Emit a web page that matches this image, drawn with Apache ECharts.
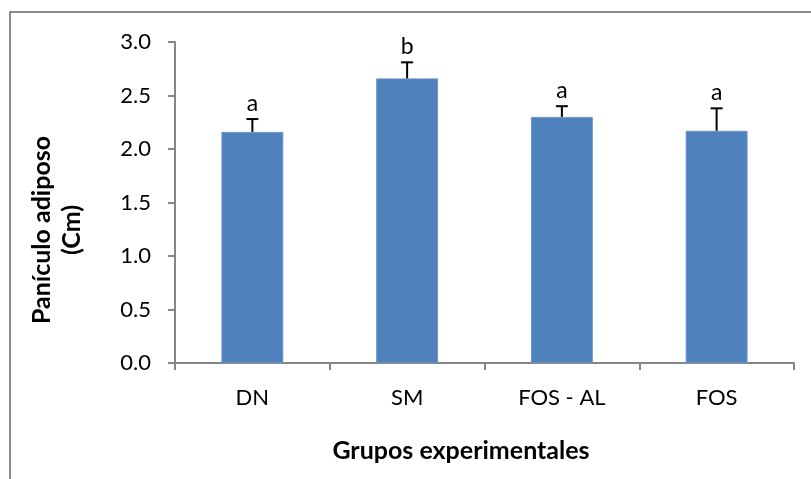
<!DOCTYPE html>
<html>
<head>
<meta charset="utf-8">
<script src="https://cdn.jsdelivr.net/npm/echarts@6/dist/echarts.min.js"></script>
<style>
  html, body { margin: 0; padding: 0; background: #ffffff; }
  #chart { width: 811px; height: 479px; }
</style>
</head>
<body>
<div id="chart"></div>
<script>
// Grupos experimentales y medias del panículo adiposo (cm)
const categories = ['DN', 'SM', 'FOS - AL', 'FOS'];
const means = [2.16, 2.66, 2.30, 2.17];
const errors = [0.12, 0.15, 0.10, 0.21];
const letters = ['a', 'b', 'a', 'a'];

const FONT = 'Lato, "Open Sans", "Liberation Sans", sans-serif';
const AXIS_GRAY = '#868686';

const chart = echarts.init(document.getElementById('chart'), null, { renderer: 'canvas' });

const errData = categories.map((c, i) => [i, means[i], errors[i]]);

function renderErrorBar(params, api) {
  const i = api.value(0);
  const mean = api.value(1);
  const err = api.value(2);
  const base = api.coord([i, mean]);
  const top = api.coord([i, mean + err]);
  const half = 6;
  return {
    type: 'group',
    children: [
      {
        type: 'line',
        shape: { x1: base[0], y1: base[1], x2: top[0], y2: top[1] },
        style: { stroke: '#000000', lineWidth: 2 }
      },
      {
        type: 'line',
        shape: { x1: top[0] - half, y1: top[1], x2: top[0] + half, y2: top[1] },
        style: { stroke: '#000000', lineWidth: 2 }
      },
      {
        type: 'text',
        x: top[0],
        y: top[1] - 4,
        style: {
          text: letters[params.dataIndex],
          fill: '#000000',
          font: '23px ' + FONT,
          textAlign: 'center',
          textVerticalAlign: 'bottom'
        }
      }
    ]
  };
}

chart.setOption({
  animation: false,
  backgroundColor: '#ffffff',
  grid: { left: 175, right: 17, top: 42, bottom: 116, containLabel: false },
  xAxis: {
    type: 'category',
    data: categories,
    boundaryGap: true,
    axisLine: { show: true, lineStyle: { color: AXIS_GRAY, width: 2 } },
    axisTick: { show: true, alignWithLabel: false, length: 7, lineStyle: { color: AXIS_GRAY, width: 2 } },
    axisLabel: { color: '#000000', fontFamily: FONT, fontSize: 22, margin: 24 },
    splitLine: { show: false }
  },
  yAxis: {
    type: 'value',
    min: 0,
    max: 3,
    interval: 0.5,
    axisLine: { show: true, lineStyle: { color: AXIS_GRAY, width: 2 } },
    axisTick: { show: true, inside: false, length: 7, lineStyle: { color: AXIS_GRAY, width: 2 } },
    axisLabel: {
      color: '#000000', fontFamily: FONT, fontSize: 22, margin: 24,
      formatter: v => v.toFixed(1)
    },
    splitLine: { show: false }
  },
  graphic: [
    {
      type: 'rect',
      shape: { x: 10, y: 12, width: 900, height: 600 },
      style: { fill: 'none', stroke: '#8c8c8c', lineWidth: 2 },
      silent: true,
      z: -10
    },
    {
      type: 'text',
      x: 42,
      y: 230,
      rotation: Math.PI / 2,
      style: {
        text: 'Panículo adiposo',
        font: 'bold 25px ' + FONT,
        fill: '#000000',
        textAlign: 'center',
        textVerticalAlign: 'middle'
      }
    },
    {
      type: 'text',
      x: 72,
      y: 230,
      rotation: Math.PI / 2,
      style: {
        text: '(Cm)',
        font: 'bold 25px ' + FONT,
        fill: '#000000',
        textAlign: 'center',
        textVerticalAlign: 'middle'
      }
    },
    {
      type: 'text',
      x: 461,
      y: 451,
      style: {
        text: 'Grupos experimentales',
        font: 'bold 25px ' + FONT,
        fill: '#000000',
        textAlign: 'center',
        textVerticalAlign: 'middle'
      }
    }
  ],
  series: [
    {
      type: 'bar',
      data: means,
      barCategoryGap: '60%',
      itemStyle: { color: '#4F81BD', borderColor: '#6B93C8', borderWidth: 1 },
      z: 2
    },
    {
      type: 'custom',
      data: errData,
      renderItem: renderErrorBar,
      z: 3
    }
  ]
});
</script>
</body>
</html>
